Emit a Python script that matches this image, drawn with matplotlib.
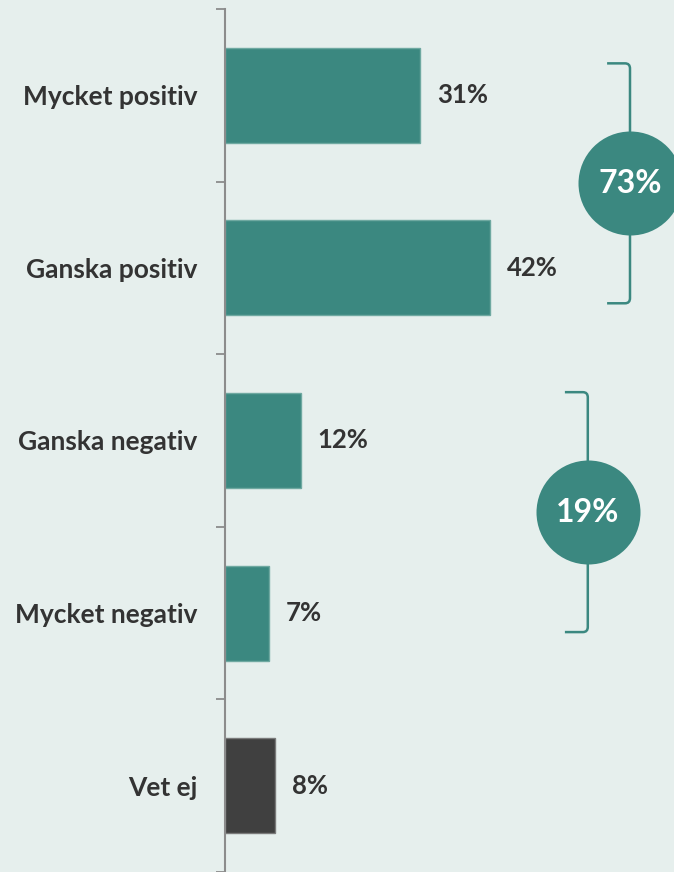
import numpy as np
import matplotlib.pyplot as plt
from matplotlib.path import Path
from matplotlib.patches import PathPatch
import matplotlib.transforms as mtransforms

# ── data ──────────────────────────────────────────────────────────────
categories = ["Mycket positiv", "Ganska positiv", "Ganska negativ",
              "Mycket negativ", "Vet ej"]
values = [31, 42, 12, 7, 8]
group_totals = [73, 19]          # positiv / negativ summaries
group_members = [(0, 1), (2, 3)]  # category index span of each bracket

# ── style ─────────────────────────────────────────────────────────────
BG = "#e6efed"
TEAL = "#3b8880"
DARK = "#404040"
TXT = "#333333"
plt.rcParams["font.family"] = ["Lato", "DejaVu Sans"]

fig = plt.figure(figsize=(6.74, 8.72), dpi=100, facecolor=BG)
ax = fig.add_axes([225 / 674, 0.0, 449 / 674, 1 - 9 / 872])
ax.set_facecolor(BG)

y = np.arange(len(categories))
colors = [TEAL] * 4 + [DARK]
edges = ["#6fa9a1"] * 4 + ["#7a7a7a"]
ax.barh(y, values, height=0.55, color=colors, edgecolor=edges, linewidth=1.0)

ax.set_xlim(0, 449 / 6.3)
ax.set_ylim(len(categories) - 0.5, -0.5)

# value labels
for yi, v in zip(y, values):
    ax.text(v + 17 / 6.3, yi, f"{v}%", va="center", ha="left",
            fontsize=18.5, fontweight="bold", color=TXT)

# axis styling
for s in ["top", "right", "bottom"]:
    ax.spines[s].set_visible(False)
ax.spines["left"].set_color("#8c8c8c")
ax.spines["left"].set_linewidth(1.5)
ax.set_xticks([])
ax.set_yticks(np.arange(-0.5, len(categories)), labels=[""] * (len(categories) + 1))
ax.tick_params(axis="y", which="major", length=6.5, width=1.3, color="#8c8c8c")
ax.set_yticks(y, labels=categories, minor=True)
ax.tick_params(axis="y", which="minor", length=0, pad=20, labelsize=19,
               labelcolor=TXT)
for lbl in ax.get_yticklabels(minor=True):
    lbl.set_fontweight("bold")

# brackets with summary circles
trans = mtransforms.blended_transform_factory(ax.transAxes, ax.transData)
bracket_x = [0.902, 0.808]
bracket_off = [(-0.185, 0.205), (-0.28, 0.11)]
arm = 0.051
for (i0, i1), tot, bx, (o_top, o_bot) in zip(group_members, group_totals,
                                             bracket_x, bracket_off):
    top = i0 + o_top
    bot = i1 + o_bot
    rx, ry = 0.011, 0.03
    verts = [(bx - arm, top), (bx - rx, top), (bx, top), (bx, top + ry),
             (bx, bot - ry), (bx, bot), (bx - rx, bot), (bx - arm, bot)]
    codes = [Path.MOVETO, Path.LINETO, Path.CURVE3, Path.CURVE3,
             Path.LINETO, Path.CURVE3, Path.CURVE3, Path.LINETO]
    ax.add_patch(PathPatch(Path(verts, codes), transform=trans, fill=False,
                           edgecolor=TEAL, linewidth=1.8, clip_on=False,
                           capstyle="butt"))
    mid = (top + bot) / 2
    ax.scatter([bx], [mid], s=104 ** 2 * 0.72 ** 2, color=TEAL, transform=trans,
               clip_on=False, zorder=5, linewidths=0)
    ax.text(bx, mid, f"{tot}%", transform=trans, ha="center", va="center",
            fontsize=23, fontweight="bold", color="white", zorder=6)

fig.savefig("out.png", dpi=100, facecolor=BG)
